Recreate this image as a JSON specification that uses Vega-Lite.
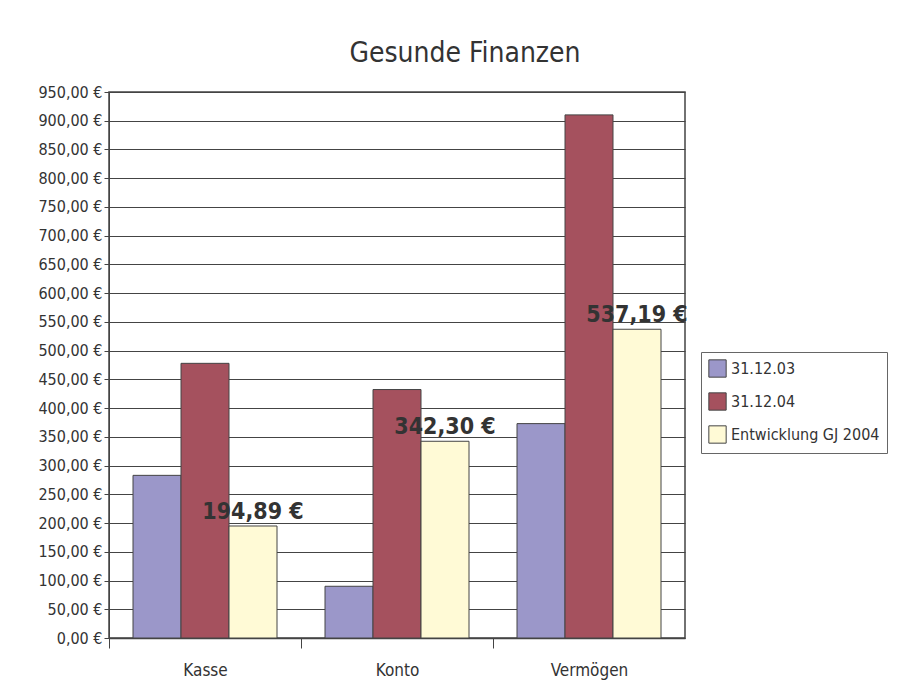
{
  "$schema": "https://vega.github.io/schema/vega-lite/v6.json",
  "width": 576,
  "height": 546,
  "autosize": {"type": "none"},
  "padding": {"left": 109, "top": 92, "right": 218, "bottom": 50},
  "background": "white",
  "config": {
    "locale": {"number": {"decimal": ",", "thousands": ".", "grouping": [3], "currency": ["", " €"]}},
    "font": "DejaVu Sans Condensed",
    "view": {"stroke": "#444", "strokeWidth": 1.5}
  },
  "title": {
    "text": "Gesunde Finanzen",
    "fontSize": 28,
    "fontWeight": "normal",
    "font": "DejaVu Sans Condensed",
    "color": "#333",
    "anchor": "middle",
    "frame": "group",
    "dx": 68,
    "offset": 16
  },
  "data": {
    "values": [
      {"kategorie": "Kasse", "serie": "31.12.03", "wert": 283.0},
      {"kategorie": "Kasse", "serie": "31.12.04", "wert": 477.89},
      {"kategorie": "Kasse", "serie": "Entwicklung GJ 2004", "wert": 194.89},
      {"kategorie": "Konto", "serie": "31.12.03", "wert": 90.0},
      {"kategorie": "Konto", "serie": "31.12.04", "wert": 432.3},
      {"kategorie": "Konto", "serie": "Entwicklung GJ 2004", "wert": 342.3},
      {"kategorie": "Vermögen", "serie": "31.12.03", "wert": 373.0},
      {"kategorie": "Vermögen", "serie": "31.12.04", "wert": 910.19},
      {"kategorie": "Vermögen", "serie": "Entwicklung GJ 2004", "wert": 537.19}
    ]
  },
  "encoding": {
    "x": {
      "field": "kategorie",
      "type": "nominal",
      "sort": ["Kasse", "Konto", "Vermögen"],
      "scale": {"paddingInner": 0.25, "paddingOuter": 0.125},
      "axis": {
        "title": null,
        "labelAngle": 0,
        "labelFontSize": 17,
        "labelColor": "#333",
        "labelPadding": 14,
        "tickOffset": -96,
        "labelOffset": 96,
        "tickSize": 10,
        "tickColor": "#444",
        "domainColor": "#444",
        "domainWidth": 1.5
      }
    },
    "xOffset": {
      "field": "serie",
      "type": "nominal",
      "sort": ["31.12.03", "31.12.04", "Entwicklung GJ 2004"],
      "scale": {"paddingInner": 0, "paddingOuter": 0}
    },
    "y": {
      "field": "wert",
      "type": "quantitative",
      "scale": {"domain": [0, 950], "nice": false},
      "axis": {
        "title": null,
        "values": [0, 50, 100, 150, 200, 250, 300, 350, 400, 450, 500, 550, 600, 650, 700, 750, 800, 850, 900, 950],
        "format": "$,.2f",
        "labelFontSize": 16,
        "labelColor": "#333",
        "labelPadding": 2,
        "tickSize": 5,
        "tickColor": "#444",
        "domainColor": "#444",
        "gridColor": "#444",
        "gridWidth": 1,
        "grid": true
      }
    }
  },
  "layer": [
    {
      "mark": {"type": "bar", "stroke": "#444", "strokeWidth": 1},
      "encoding": {
        "color": {
          "field": "serie",
          "type": "nominal",
          "scale": {
            "domain": ["31.12.03", "31.12.04", "Entwicklung GJ 2004"],
            "range": ["#9b97c9", "#a5515e", "#fffad6"]
          },
          "legend": {
            "title": null,
            "orient": "none",
            "legendX": 592,
            "legendY": 260,
            "symbolType": "square",
            "symbolSize": 300,
            "symbolStrokeColor": "#444",
            "symbolStrokeWidth": 1,
            "labelFontSize": 16,
            "labelColor": "#333",
            "rowPadding": 10,
            "padding": 7,
            "strokeColor": "#666",
            "fillColor": "white"
          }
        }
      }
    },
    {
      "transform": [{"filter": "datum.serie === 'Entwicklung GJ 2004'"}],
      "mark": {
        "type": "text",
        "fontSize": 23,
        "fontWeight": "bold",
        "color": "#333",
        "baseline": "alphabetic",
        "dy": -7
      },
      "encoding": {
        "text": {"field": "wert", "type": "quantitative", "format": "$,.2f"}
      }
    }
  ]
}
